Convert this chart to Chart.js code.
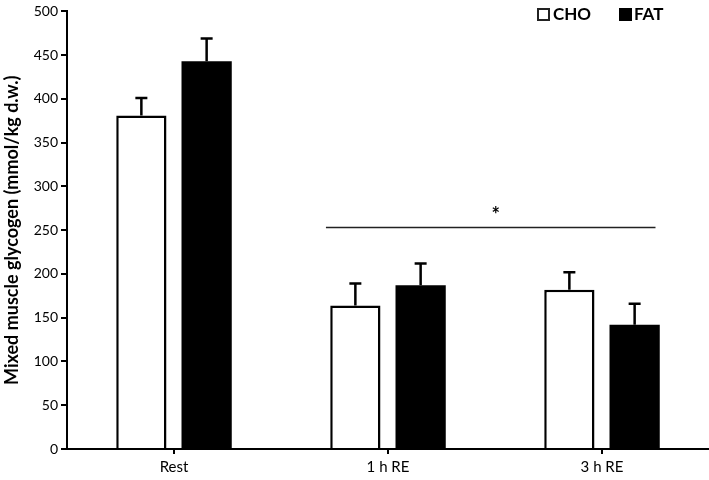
<!DOCTYPE html>
<html>
<head>
<meta charset="utf-8">
<script src="https://cdn.jsdelivr.net/npm/chart.js@4"></script>
<style>
html,body{margin:0;padding:0;background:#fff;}
#wrap{width:709px;height:480px;position:relative;}
</style>
</head>
<body>
<div id="wrap"><canvas id="c" width="709" height="480"></canvas></div>
<script>
const categories = ['Rest', '1 h RE', '3 h RE'];
const choValues = [381, 164, 182];
const fatValues = [443, 187, 142];
const choErrors = [20, 25, 20];
const fatErrors = [26, 25, 24];
const yTicks = [0, 50, 100, 150, 200, 250, 300, 350, 400, 450, 500];
const sigValue = 253;
const sigLabel = '*';
const seriesNames = ['CHO', 'FAT'];
const yTitle = 'Mixed muscle glycogen (mmol/kg d.w.)';

const FONT = "Lato, sans-serif";

const errorBars = {
  id: 'errorBars',
  afterDatasetsDraw(chart) {
    const ctx = chart.ctx;
    const y = chart.scales.y;
    const errs = [choErrors, fatErrors];
    ctx.save();
    ctx.strokeStyle = '#000';
    ctx.lineWidth = 2.5;
    chart.data.datasets.forEach((ds, di) => {
      const meta = chart.getDatasetMeta(di);
      meta.data.forEach((bar, i) => {
        const v = ds.data[i];
        const top = y.getPixelForValue(v);
        const cap = y.getPixelForValue(v + errs[di][i]);
        ctx.beginPath();
        ctx.moveTo(bar.x, top);
        ctx.lineTo(bar.x, cap);
        ctx.moveTo(bar.x - 6, cap);
        ctx.lineTo(bar.x + 6, cap);
        ctx.stroke();
      });
    });
    // significance line
    const x = chart.scales.x;
    const step = x.getPixelForValue(2) - x.getPixelForValue(1);
    const x1 = x.getPixelForValue(1) - 0.29 * step;
    const x2 = x.getPixelForValue(2) + 0.25 * step;
    const ys = y.getPixelForValue(sigValue);
    ctx.lineWidth = 1.5;
    ctx.strokeStyle = '#222';
    ctx.beginPath();
    ctx.moveTo(x1, ys);
    ctx.lineTo(x2, ys);
    ctx.stroke();
    ctx.fillStyle = '#000';
    ctx.font = "bold 20px " + FONT;
    ctx.textAlign = 'center';
    ctx.textBaseline = 'middle';
    ctx.fillText(sigLabel, (x1 + x2) / 2 + 5, ys - 12);
    // legend
    const lx = chart.chartArea.right - 172;
    const ly = 8;
    ctx.font = "bold 17px " + FONT;
    ctx.textAlign = 'left';
    ctx.lineWidth = 2;
    ctx.strokeRect(lx + 1, ly + 1, 11, 11);
    ctx.fillText(seriesNames[0], lx + 16, ly + 7);
    ctx.fillRect(lx + 82, ly, 13, 13);
    ctx.fillText(seriesNames[1], lx + 97, ly + 7);
    ctx.restore();
  }
};

new Chart(document.getElementById('c'), {
  type: 'bar',
  data: {
    labels: categories,
    datasets: [
      { label: seriesNames[0], data: choValues, backgroundColor: '#fff', borderColor: '#000', borderWidth: 2.5 },
      { label: seriesNames[1], data: fatValues, backgroundColor: '#000', borderColor: '#000', borderWidth: 0 }
    ]
  },
  options: {
    responsive: false,
    animation: false,
    categoryPercentage: 0.61,
    barPercentage: 0.77,
    layout: { padding: { top: 10, right: 0, left: 0, bottom: 0 } },
    plugins: { legend: { display: false }, tooltip: { enabled: false } },
    scales: {
      x: {
        offset: true,
        grid: { display: true, drawOnChartArea: false, drawTicks: true, tickLength: 5, color: '#000', lineWidth: 2, offset: false },
        border: { display: true, color: '#000', width: 2 },
        ticks: { color: '#000', font: { family: FONT, size: 15 }, padding: 4 },
        afterFit(s) { s.height = 31; }
      },
      y: {
        min: 0, max: 500,
        afterBuildTicks(s) { s.ticks = yTicks.map(v => ({ value: v })); },
        grid: { display: true, drawOnChartArea: false, drawTicks: true, tickLength: 6, color: '#000', lineWidth: 2 },
        border: { display: true, color: '#000', width: 2 },
        ticks: { color: '#000', font: { family: FONT, size: 14 }, padding: 3 },
        title: { display: true, text: yTitle, color: '#000', font: { family: FONT, size: 18, weight: 'bold' }, padding: { top: 1, bottom: 0 } },
        afterFit(s) { s.width = 67; }
      }
    }
  },
  plugins: [errorBars]
});
</script>
</body>
</html>
